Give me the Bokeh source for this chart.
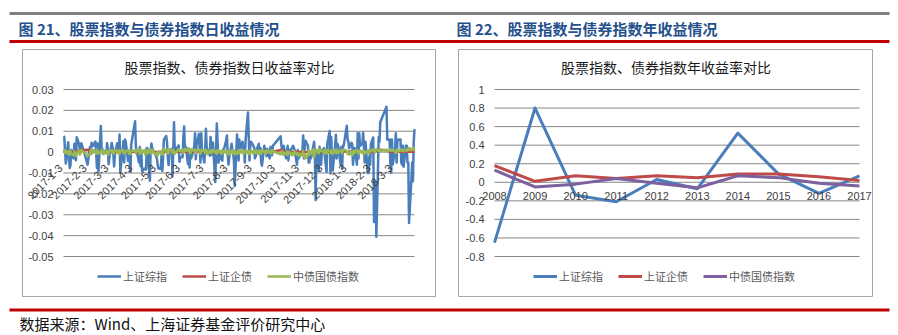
import pandas as pd
from math import pi
from bokeh.plotting import figure
from bokeh.layouts import column, row
from bokeh.models import Range1d, Legend, LegendItem, ColumnDataSource, Spacer
from bokeh.core.properties import value
from bokeh.embed import file_html
from bokeh.resources import INLINE

CJK = "Noto Sans CJK SC"
NUM = "Liberation Sans"

# ---------------- data: left chart (daily returns) ----------------
HOLIDAYS = ["2017-01-27", "2017-01-30", "2017-01-31", "2017-02-01", "2017-02-02",
            "2017-04-03", "2017-04-04", "2017-05-01", "2017-05-29", "2017-05-30",
            "2017-10-02", "2017-10-03", "2017-10-04", "2017-10-05", "2017-10-06",
            "2018-01-01", "2018-02-15", "2018-02-16", "2018-02-19", "2018-02-20", "2018-02-21"]
FIRST_DAY = "2017-01-03"
LAST_DAY = "2018-03-30"

SSE_DAILY = [
    # 2017-01
    0.0076, 0.0073, 0.0002, -0.0055, 0.0047, -0.0027, -0.0076, -0.0061, 0.0010, -0.0030,
    0.0040, 0.0022, -0.0039, 0.0071, 0.0039, 0.0008, 0.0025, 0.0043,
    # 2017-02
    -0.0060, 0.0025, -0.0010, 0.0045, 0.0039, 0.0030, 0.0051, -0.0006, -0.0076, 0.0041,
    -0.0093, 0.0125, 0.0022, 0.0013, -0.0009, 0.0005, -0.0004, 0.0042,
    # 2017-03
    0.0015, -0.0058, -0.0025, 0.0044, 0.0024, -0.0009, -0.0069, -0.0014, 0.0043, 0.0007,
    0.0002, 0.0084, -0.0096, 0.0013, 0.0052, -0.0049, 0.0061, 0.0048, -0.0043, -0.0029,
    -0.0015, -0.0094, 0.0036,
    # 2017-04
    0.0148, 0.0026, 0.0008, -0.0050, 0.0024, -0.0068, 0.0008, -0.0091, -0.0079, -0.0080,
    -0.0084, 0.0020, 0.0016, -0.0137, 0.0010, 0.0041, 0.0020, 0.0010,
    # 2017-05
    -0.0020, -0.0030, -0.0061, -0.0079, -0.0080, -0.0012, -0.0090, -0.0021, 0.0061, 0.0077,
    0.0047, -0.0022, -0.0062, 0.0009, 0.0015, -0.0116, 0.0005, 0.0143, 0.0007, 0.0032,
    # 2017-06
    -0.0046, -0.0023, -0.0025, 0.0069, 0.0123, 0.0016, 0.0026, -0.0057, 0.0017, -0.0074,
    0.0005, -0.0030, 0.0007, 0.0030, 0.0090, -0.0034, 0.0036, 0.0088, 0.0016, -0.0050,
    0.0090, 0.0004,
    # 2017-07
    -0.0050, 0.0010, 0.0112, 0.0023, 0.0012, -0.0017, 0.0073, -0.0014, 0.0035, 0.0046,
    -0.0143, 0.0008, 0.0137, 0.0050, -0.0051, 0.0004, -0.0033, -0.0041, 0.0012, 0.0011,
    0.0055,
    # 2017-08
    0.0080, -0.0013, -0.0060, -0.0025, 0.0040, 0.0010, -0.0010, -0.0040, -0.0162, 0.0085,
    0.0020, -0.0040, 0.0060, 0.0010, 0.0050, 0.0020, 0.0010, -0.0050, 0.0060, 0.0190,
    0.0080, -0.0040, 0.0032,
    # 2017-09
    0.0050, 0.0030, 0.0020, -0.0030, -0.0020, 0.0010, 0.0040, -0.0010, 0.0020, -0.0050,
    -0.0065, 0.0030, 0.0010, 0.0015, -0.0020, 0.0015, -0.0030, 0.0025, 0.0010, -0.0015,
    0.0030,
    # 2017-10
    0.0076, 0.0030, 0.0015, -0.0010, 0.0030, -0.0030, -0.0010, 0.0030, -0.0040, 0.0010,
    0.0015, 0.0025, 0.0030, 0.0020, 0.0010, -0.0060, 0.0010,
    # 2017-11
    -0.0030, -0.0012, -0.0020, 0.0010, 0.0080, -0.0030, 0.0030, 0.0055, 0.0030, -0.0050,
    -0.0050, -0.0010, -0.0030, 0.0030, 0.0050, -0.0010, -0.0229, 0.0006, -0.0090, 0.0026,
    -0.0006, -0.0060,
    # 2017-12
    0.0007, 0.0020, -0.0030, -0.0062, -0.0095, 0.0040, 0.0101, -0.0102, 0.0072, -0.0030,
    -0.0088, 0.0030, 0.0083, -0.0030, 0.0040, 0.0030, -0.0060, 0.0025, -0.0080, 0.0030,
    0.0030,
    # 2018-01
    0.0126, 0.0062, 0.0051, 0.0018, 0.0045, 0.0038, -0.0060, -0.0007, 0.0020, -0.0060,
    0.0090, -0.0030, 0.0090, 0.0030, 0.0040, 0.0093, 0.0030, -0.0050, 0.0050, -0.0100,
    -0.0100, -0.0020,
    # 2018-02
    -0.0060, 0.0040, 0.0070, -0.0335, -0.0182, -0.0143, -0.0405, 0.0072, 0.0050, 0.0143,
    0.0217, 0.0060, 0.0060, -0.0060, -0.0099,
    # 2018-03
    0.0061, -0.0059, 0.0010, 0.0090, -0.0050, 0.0050, 0.0060, 0.0060, -0.0050, -0.0060,
    0.0030, -0.0070, 0.0030, 0.0030, -0.0050, -0.0050, -0.0339, -0.0130, -0.0050, -0.0140,
    0.0050, 0.0110,
]

CORP_DAILY = [
    # 2017-01
    0.0003, 0.0002, 0.0001, 0.0002, 0.0001, 0.0000, -0.0002, 0.0001, 0.0002, -0.0001,
    0.0003, 0.0002, 0.0001, 0.0004, 0.0008, 0.0010, 0.0012, 0.0009,
    # 2017-02
    0.0011, 0.0008, 0.0004, 0.0002, 0.0001, 0.0003, 0.0002, 0.0001, 0.0002, 0.0003,
    0.0001, 0.0002, 0.0002, 0.0001, 0.0003, 0.0002, 0.0001, 0.0002,
    # 2017-03
    0.0001, -0.0001, 0.0002, 0.0003, 0.0001, 0.0002, 0.0001, 0.0002, 0.0003, 0.0002,
    0.0001, 0.0002, 0.0001, 0.0003, 0.0002, 0.0001, 0.0002, 0.0003, 0.0001, 0.0002,
    0.0002, 0.0001, 0.0003,
    # 2017-04
    0.0002, 0.0001, 0.0003, 0.0002, 0.0001, 0.0002, 0.0002, 0.0001, 0.0003, 0.0002,
    0.0001, 0.0002, 0.0003, 0.0001, 0.0002, 0.0002, 0.0001, 0.0002,
    # 2017-05
    0.0001, 0.0000, -0.0002, 0.0001, 0.0002, 0.0001, -0.0001, 0.0002, 0.0003, 0.0002,
    0.0001, 0.0002, 0.0002, 0.0003, 0.0001, 0.0002, 0.0001, 0.0002, 0.0003, 0.0002,
    # 2017-06
    0.0002, 0.0003, 0.0002, 0.0004, 0.0003, 0.0002, 0.0003, 0.0002, 0.0003, 0.0004,
    0.0002, 0.0003, 0.0002, 0.0003, 0.0004, 0.0003, 0.0002, 0.0003, 0.0004, 0.0002,
    0.0003, 0.0003,
    # 2017-07
    0.0002, 0.0003, 0.0002, 0.0003, 0.0002, 0.0003, 0.0002, 0.0002, 0.0003, 0.0002,
    0.0001, 0.0002, 0.0003, 0.0002, 0.0002, 0.0003, 0.0002, 0.0002, 0.0003, 0.0002,
    0.0002,
    # 2017-08
    0.0002, 0.0002, 0.0003, 0.0002, 0.0002, 0.0003, 0.0002, 0.0001, 0.0002, 0.0002,
    0.0003, 0.0002, 0.0002, 0.0003, 0.0002, 0.0002, 0.0003, 0.0002, 0.0002, 0.0003,
    0.0002, 0.0002, 0.0003,
    # 2017-09
    0.0002, 0.0003, 0.0002, 0.0002, 0.0003, 0.0002, 0.0002, 0.0003, 0.0002, 0.0002,
    0.0003, 0.0002, 0.0002, 0.0003, 0.0002, 0.0002, 0.0003, 0.0002, 0.0002, 0.0003,
    0.0002,
    # 2017-10
    0.0010, 0.0012, 0.0009, 0.0005, 0.0002, 0.0001, 0.0002, 0.0001, 0.0000, 0.0001,
    0.0002, 0.0001, 0.0000, 0.0001, 0.0002, 0.0001, 0.0001,
    # 2017-11
    0.0001, 0.0000, 0.0001, 0.0001, 0.0002, 0.0000, 0.0001, 0.0000, 0.0001, 0.0002,
    0.0001, 0.0000, 0.0001, 0.0002, 0.0001, 0.0000, -0.0001, 0.0001, 0.0002, 0.0001,
    0.0002, 0.0001,
    # 2017-12
    0.0002, 0.0001, 0.0002, 0.0003, 0.0002, 0.0001, 0.0002, 0.0003, 0.0002, 0.0001,
    0.0002, 0.0002, 0.0003, 0.0002, 0.0001, 0.0002, 0.0003, 0.0002, 0.0002, 0.0003,
    0.0004,
    # 2018-01
    0.0003, 0.0002, 0.0002, 0.0003, 0.0002, 0.0001, 0.0002, 0.0002, 0.0003, 0.0002,
    0.0002, 0.0003, 0.0002, 0.0002, 0.0003, 0.0002, 0.0002, 0.0003, 0.0002, 0.0002,
    0.0003, 0.0002,
    # 2018-02
    0.0002, 0.0003, 0.0002, 0.0003, 0.0004, 0.0003, 0.0005, 0.0008, 0.0010, 0.0011,
    0.0009, 0.0005, 0.0003, 0.0002, 0.0003,
    # 2018-03
    0.0002, 0.0003, 0.0002, 0.0003, 0.0002, 0.0003, 0.0002, 0.0003, 0.0002, 0.0003,
    0.0002, 0.0003, 0.0002, 0.0003, 0.0002, 0.0003, 0.0002, 0.0003, 0.0002, 0.0003,
    0.0002, 0.0003,
]

GOVT_DAILY = [
    # 2017-01
    0.0005, 0.0010, -0.0005, 0.0008, -0.0010, 0.0003, -0.0012, 0.0006, -0.0008, -0.0015,
    0.0004, -0.0010, -0.0018, -0.0006, 0.0008, -0.0012, -0.0004, 0.0010,
    # 2017-02
    -0.0017, -0.0010, 0.0006, 0.0012, -0.0005, 0.0009, 0.0004, -0.0008, 0.0012, 0.0005,
    -0.0006, 0.0003, 0.0010, -0.0004, 0.0006, -0.0009, 0.0004, 0.0008,
    # 2017-03
    -0.0006, -0.0012, 0.0004, 0.0010, -0.0003, 0.0006, -0.0008, 0.0012, 0.0003, -0.0005,
    0.0009, -0.0010, 0.0005, 0.0011, -0.0004, 0.0007, -0.0006, 0.0003, 0.0010, -0.0007,
    0.0004, -0.0009, 0.0006,
    # 2017-04
    0.0008, -0.0005, 0.0012, 0.0004, -0.0008, 0.0015, 0.0006, -0.0004, 0.0010, -0.0012,
    0.0005, 0.0009, -0.0006, 0.0014, 0.0003, -0.0008, 0.0011, 0.0004,
    # 2017-05
    -0.0012, -0.0005, -0.0015, 0.0004, -0.0009, 0.0006, -0.0013, 0.0010, 0.0016, 0.0005,
    -0.0004, 0.0012, -0.0006, 0.0015, 0.0008, -0.0003, 0.0011, 0.0006, -0.0008, 0.0013,
    # 2017-06
    0.0010, 0.0005, 0.0012, -0.0004, 0.0008, 0.0015, 0.0006, 0.0018, 0.0003, 0.0010,
    -0.0006, 0.0014, 0.0007, 0.0004, 0.0012, -0.0005, 0.0009, 0.0011, 0.0003, -0.0007,
    0.0010, 0.0006,
    # 2017-07
    0.0008, -0.0004, 0.0012, 0.0006, -0.0010, 0.0005, 0.0009, -0.0006, 0.0004, 0.0011,
    -0.0003, 0.0007, -0.0008, 0.0005, 0.0010, -0.0004, 0.0006, -0.0009, 0.0003, 0.0008,
    -0.0005,
    # 2017-08
    0.0006, -0.0008, 0.0004, -0.0012, 0.0007, -0.0005, 0.0010, -0.0006, 0.0003, -0.0010,
    0.0008, 0.0004, -0.0007, 0.0011, -0.0004, 0.0006, -0.0009, 0.0005, 0.0009, -0.0006,
    0.0004, -0.0011, 0.0007,
    # 2017-09
    0.0005, -0.0007, 0.0010, 0.0003, -0.0005, 0.0008, -0.0010, 0.0006, 0.0004, -0.0008,
    0.0011, 0.0002, -0.0006, 0.0007, -0.0004, 0.0009, -0.0003, 0.0005, -0.0007, 0.0010,
    0.0004,
    # 2017-10
    -0.0010, -0.0006, 0.0004, -0.0012, -0.0005, -0.0009, 0.0003, -0.0014, -0.0006, 0.0002,
    -0.0011, -0.0016, -0.0004, -0.0008, 0.0003, -0.0013, -0.0005,
    # 2017-11
    -0.0012, -0.0018, -0.0008, -0.0015, 0.0006, -0.0022, -0.0010, -0.0030, -0.0014, 0.0010,
    0.0004, -0.0012, -0.0006, 0.0012, -0.0025, -0.0008, 0.0015, 0.0010, -0.0006, 0.0014,
    0.0005, 0.0009,
    # 2017-12
    0.0008, -0.0006, 0.0012, 0.0004, -0.0008, 0.0010, 0.0003, -0.0005, 0.0009, 0.0006,
    -0.0010, 0.0012, 0.0004, -0.0007, 0.0011, -0.0003, 0.0006, 0.0010, -0.0005, 0.0008,
    0.0013,
    # 2018-01
    0.0006, -0.0008, 0.0004, -0.0012, 0.0002, -0.0015, -0.0006, 0.0008, -0.0004, 0.0010,
    0.0005, -0.0008, 0.0003, 0.0009, -0.0005, 0.0007, -0.0010, 0.0004, -0.0003, 0.0006,
    -0.0007, 0.0010,
    # 2018-02
    0.0008, 0.0004, 0.0012, 0.0010, -0.0003, 0.0009, 0.0015, 0.0006, 0.0010, 0.0005,
    0.0012, 0.0004, 0.0009, 0.0014, 0.0007,
    # 2018-03
    0.0006, 0.0010, 0.0004, -0.0005, 0.0008, 0.0012, 0.0003, 0.0009, 0.0014, 0.0006,
    0.0011, 0.0004, 0.0010, 0.0016, 0.0007, 0.0012, 0.0020, 0.0009, 0.0015, 0.0022,
    0.0013, 0.0006,
]

DAILY_TICK_DATES = ["2017-01-03", "2017-02-03", "2017-03-03", "2017-04-03", "2017-05-03",
                    "2017-06-03", "2017-07-03", "2017-08-03", "2017-09-03", "2017-10-03",
                    "2017-11-03", "2017-12-03", "2018-01-03", "2018-02-03", "2018-03-03"]
DAILY_TICK_LABELS = ["2017-1-3", "2017-2-3", "2017-3-3", "2017-4-3", "2017-5-3", "2017-6-3",
                     "2017-7-3", "2017-8-3", "2017-9-3", "2017-10-3", "2017-11-3", "2017-12-3",
                     "2018-1-3", "2018-2-3", "2018-3-3"]
DAILY_Y_TICKS = [-0.05, -0.04, -0.03, -0.02, -0.01, 0, 0.01, 0.02, 0.03]
DAILY_Y_LABELS = ["-0.05", "-0.04", "-0.03", "-0.02", "-0.01", "0", "0.01", "0.02", "0.03"]

# ---------------- data: right chart (annual returns) ----------------
YEARS = [2008, 2009, 2010, 2011, 2012, 2013, 2014, 2015, 2016, 2017]
SSE_ANNUAL = [-0.65, 0.80, -0.14, -0.21, 0.03, -0.07, 0.53, 0.09, -0.12, 0.07]
CORP_ANNUAL = [0.18, 0.01, 0.07, 0.04, 0.07, 0.05, 0.09, 0.09, 0.06, 0.02]
GOVT_ANNUAL = [0.13, -0.05, -0.02, 0.04, -0.01, -0.06, 0.07, 0.05, -0.01, -0.04]
ANNUAL_Y_TICKS = [-0.8, -0.6, -0.4, -0.2, 0, 0.2, 0.4, 0.6, 0.8, 1]
ANNUAL_Y_LABELS = ["-0.8", "-0.6", "-0.4", "-0.2", "0", "0.2", "0.4", "0.6", "0.8", "1"]

SERIES_NAMES = ["上证综指", "上证企债", "中债国债指数"]
FIG_TITLES = ["图 21、股票指数与债券指数日收益情况", "图 22、股票指数与债券指数年收益情况"]
CHART_TITLES = ["股票指数、债券指数日收益率对比", "股票指数、债券指数年收益率对比"]
SOURCE_TEXT = "数据来源：Wind、上海证券基金评价研究中心"

BLUE, RED, GREEN, PURPLE = "#4a7ebb", "#be4b48", "#98b954", "#7d60a0"
GRID, TICKTXT = "#878787", "#404040"

# ---------------- build ----------------
trade_days = [d for d in pd.bdate_range(FIRST_DAY, LAST_DAY)
              if d.strftime("%Y-%m-%d") not in HOLIDAYS]
assert len(trade_days) == len(SSE_DAILY) == len(CORP_DAILY) == len(GOVT_DAILY), (
    len(trade_days), len(SSE_DAILY), len(CORP_DAILY), len(GOVT_DAILY))

daily = ColumnDataSource(dict(date=trade_days, sse=SSE_DAILY, corp=CORP_DAILY, govt=GOVT_DAILY))
annual = ColumnDataSource(dict(year=YEARS, sse=SSE_ANNUAL, corp=CORP_ANNUAL, govt=GOVT_ANNUAL))

BOX_H = 248      # chart box height in px
PLOT_TOP = 40    # px from box top to the top grid line
PLOT_BOT = 207   # px from box top to the bottom grid line


def span_range(v0, v1, p0, p1, total):
    """Range whose values v0 and v1 fall at pixels p0 and p1 of a frame `total` px wide."""
    per_px = (v1 - v0) / (p1 - p0)
    return v0 - p0 * per_px, v1 + (total - p1) * per_px


def chart(width, x0, x1, px0, px1, y0, y1, x_is_date):
    xs, xe = span_range(x0, x1, px0, px1, width)
    # screen y grows downward; values grow upward
    yt, yb = span_range(y1, y0, PLOT_TOP, PLOT_BOT, BOX_H)
    p = figure(width=width, height=BOX_H, x_range=Range1d(xs, xe), y_range=Range1d(yb, yt),
               output_backend="svg", toolbar_location=None, min_border=0,
               x_axis_location=None, y_axis_location=None,
               background_fill_color="white", border_fill_color="white",
               outline_line_color="#a6a6a6", outline_line_width=1)
    p.grid.visible = False
    p.title.text = ""
    return p, (xs, xe), (yb, yt)


def decorate(p, xr, yr, x0, x1, yticks, ylabels, title):
    # horizontal grid lines at the y ticks, across the plot area
    p.segment(x0=[x0] * len(yticks), x1=[x1] * len(yticks), y0=yticks, y1=yticks,
              line_color=GRID, line_width=1)
    # y tick labels, right aligned 10 px left of the plot area
    p.text(x=[x0] * len(yticks), y=yticks, text=ylabels, x_offset=-10,
           text_align="right", text_baseline="middle", text_font=value(NUM),
           text_font_size="11px", text_color=TICKTXT)
    # chart title, centred in the box, 17 px below its top edge
    per_px = (yr[1] - yr[0]) / BOX_H
    p.text(x=[(xr[0] + xr[1]) / 2], y=[yr[1] - 17 * per_px], text=[title],
           text_align="center", text_baseline="middle", text_font=value(CJK),
           text_font_size="14px", text_color="#1a1a1a")


def add_legend(p, renderers, left_px):
    items = [LegendItem(label=n, renderers=[r]) for n, r in zip(SERIES_NAMES, renderers)]
    lg = Legend(items=items, orientation="horizontal", location=(left_px, 11),
                label_text_font=CJK, label_text_font_size="11px", label_text_color="#595959",
                glyph_width=24, glyph_height=20, label_height=20, label_standoff=2,
                spacing=15, padding=0, margin=0, border_line_color=None,
                background_fill_alpha=0)
    p.add_layout(lg)


# left chart: box x 22..436 on the page, plot area x 63..414
t0 = pd.Timestamp(FIRST_DAY).value / 1e6
t1 = pd.Timestamp(LAST_DAY).value / 1e6
left, lxr, lyr = chart(414, t0, t1, 41, 392, DAILY_Y_TICKS[0], DAILY_Y_TICKS[-1], True)
decorate(left, lxr, lyr, t0, t1, DAILY_Y_TICKS, DAILY_Y_LABELS, CHART_TITLES[0])
lw = 2.5
r1 = left.line("date", "sse", source=daily, color=BLUE, line_width=lw, line_join="round")
r2 = left.line("date", "corp", source=daily, color=RED, line_width=lw, line_join="round")
r3 = left.line("date", "govt", source=daily, color=GREEN, line_width=lw, line_join="round")
left.text(x=pd.to_datetime(DAILY_TICK_DATES), y=[0] * len(DAILY_TICK_DATES),
          text=DAILY_TICK_LABELS, angle=pi / 4, text_align="right", text_baseline="middle",
          x_offset=-3, y_offset=14, text_font=value(NUM), text_font_size="11px",
          text_color=TICKTXT)
add_legend(left, [r1, r2, r3], 75)

# right chart: box x 458..873 on the page, plot area x 494..859
right, rxr, ryr = chart(415, YEARS[0], YEARS[-1], 36, 401,
                        ANNUAL_Y_TICKS[0], ANNUAL_Y_TICKS[-1], False)
decorate(right, rxr, ryr, YEARS[0], YEARS[-1], ANNUAL_Y_TICKS, ANNUAL_Y_LABELS, CHART_TITLES[1])
rw = 3
q1 = right.line("year", "sse", source=annual, color=BLUE, line_width=rw, line_join="round")
q2 = right.line("year", "corp", source=annual, color=RED, line_width=rw, line_join="round")
q3 = right.line("year", "govt", source=annual, color=PURPLE, line_width=rw, line_join="round")
right.text(x=YEARS, y=[0] * len(YEARS), text=[str(y) for y in YEARS], text_align="center",
           text_baseline="middle", y_offset=14, text_font=value(NUM), text_font_size="11px",
           text_color=TICKTXT)
add_legend(right, [q1, q2, q3], 75)


# header / footer decorations
def deco(h):
    p = figure(width=898, height=h, x_range=Range1d(0, 898), y_range=Range1d(h, 0),
               output_backend="svg", toolbar_location=None, min_border=0,
               x_axis_location=None, y_axis_location=None, outline_line_color=None,
               background_fill_color="white", border_fill_color="white")
    p.grid.visible = False
    return p


hdr = deco(49)
hdr.segment(x0=[9, 9], y0=[13, 41], x1=[889, 889], y1=[13, 41],
            color=["#7f7f7f", "#c00000"], line_width=3)
hdr.text(x=[18, 456], y=[28, 28], text=FIG_TITLES, text_font=value(CJK),
         text_font_size="15px", text_font_style="bold", text_color="#24508c",
         text_baseline="middle", text_align="left")

ftr = deco(38)
ftr.segment(x0=[9], y0=[12.5], x1=[889], y1=[12.5], color="#c00000", line_width=3)
ftr.text(x=[19], y=[26], text=[SOURCE_TEXT], text_font=value(CJK), text_font_size="15px",
         text_color="#111111", text_baseline="middle", text_align="left")

layout = column(hdr,
                row(Spacer(width=22, height=BOX_H), left, Spacer(width=22, height=BOX_H), right,
                    Spacer(width=25, height=BOX_H)),
                ftr)

open("out.html", "w").write(file_html(layout, INLINE))
